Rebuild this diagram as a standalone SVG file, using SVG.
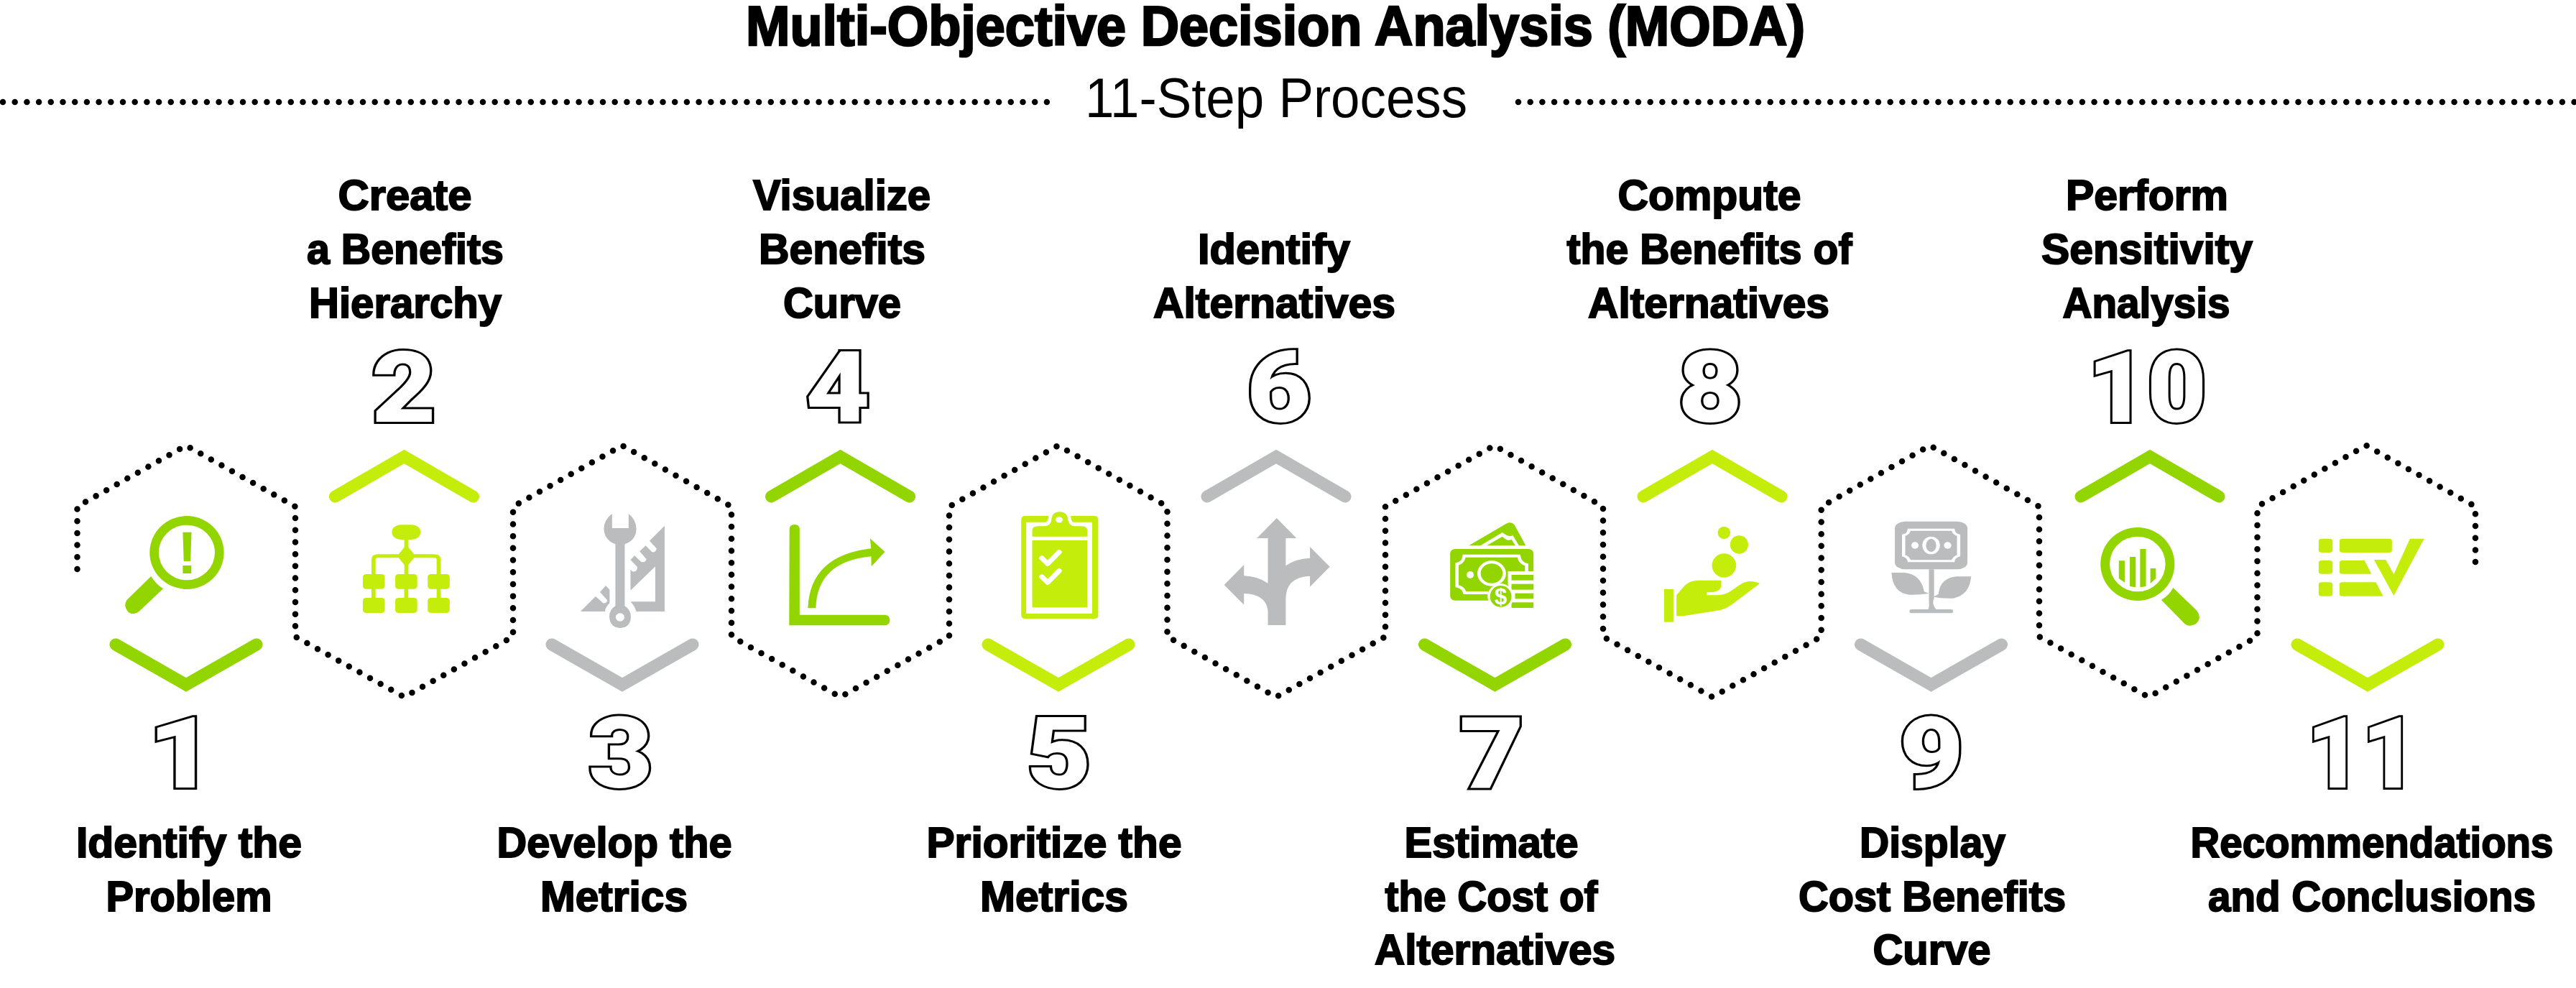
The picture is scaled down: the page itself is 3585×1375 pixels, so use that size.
<svg xmlns="http://www.w3.org/2000/svg" width="3585" height="1375" viewBox="0 0 3585 1375">
<style>
text{font-family:"Liberation Sans",Arial,sans-serif;fill:#000;text-anchor:middle}
.t{font-size:77px;font-weight:700;stroke:#000;stroke-width:2.6px}
.s{font-size:77px;font-weight:400}
.b{font-size:59px;font-weight:700;stroke:#000;stroke-width:2px}
.n{font-family:Roboto,"Liberation Sans",sans-serif;font-size:138px;font-weight:900;fill:#fff;stroke:#000;stroke-width:6px;paint-order:stroke;stroke-linejoin:miter}
.dots{fill:none;stroke:#000;stroke-width:8.500;stroke-linecap:round;stroke-dasharray:0 16.7}
.ch{fill:none;stroke-width:17;stroke-linecap:round;stroke-linejoin:miter;stroke-miterlimit:10}
.G{stroke:#93d500}
.L{stroke:#c4ed0b}
.K{stroke:#bbbcbe}
.fg{fill:#93d500}.fl{fill:#c4ed0b}.fk{fill:#bbbcbe}.w{fill:#fff}
.sw{fill:none;stroke:#fff}
</style>
<defs>
<path id="dn" d="M-98 897L0 953L98 897"/>
<path id="up" d="M-96 691L0 635.5L96 691"/>
</defs>
<rect width="3585" height="1375" fill="#fff"/>
<g id="header">
<text class="t" x="1775" y="63" textLength="1474" lengthAdjust="spacingAndGlyphs">Multi-Objective Decision Analysis (MODA)</text>
<text class="s" x="1776" y="163" textLength="532" lengthAdjust="spacingAndGlyphs">11-Step Process</text>
<path class="dots" d="M4 142H1458"/>
<path class="dots" d="M2113 142H3585"/>
</g>
<g id="connectors">
<path class="dots" d="M107.500 792V705L259 620L411 705V886L562.500 970L714 886V705L866 620L1018 705V886L1169.500 970L1321 886V705L1472.700 620L1624.500 705V886L1776 970L1928 886V705L2079.500 620L2231 705V886L2383 970L2534.700 886V705L2686 620L2838 705V886L2990 970L3141.500 886V705L3293 620L3445 705V797"/>
</g>
<g id="node-1">
<use href="#dn" x="259" class="ch G"/>
<g transform="translate(100 680) scale(.3827 .3333)">
<ellipse class="fg" cx="418" cy="267" rx="135" ry="153"/><ellipse class="w" cx="418" cy="267" rx="102" ry="115"/>
<path class="fg" d="M288 366Q305 398 332 418L245 512Q225 532 205 515Q185 490 200 465Z"/>
</g>
<text x="260.500" y="798" style="font-size:84px;font-weight:700;fill:#93d500">!</text>
<text class="n" x="252" y="1096" textLength="92" lengthAdjust="spacingAndGlyphs">1</text>
<text class="b" x="263" y="1193" textLength="314" lengthAdjust="spacingAndGlyphs">Identify the</text>
<text class="b" x="263" y="1268" textLength="231" lengthAdjust="spacingAndGlyphs">Problem</text>
</g>
<g id="node-2">
<use href="#up" x="562.500" class="ch L"/>
<g transform="translate(100 680) scale(.3827 .3333)">
<rect class="fl" x="1164" y="151" width="104" height="62" rx="32" ry="30"/>
<path class="fl" d="M1209 213H1224V245L1250 281L1224 318V360H1209V318L1183 281L1209 245Z"/>
<path fill="none" stroke="#c4ed0b" stroke-width="15" d="M1097 360V295Q1097 281 1115 281H1316Q1334 281 1334 295V360"/>
<path fill="none" stroke="#c4ed0b" stroke-width="15" d="M1097 415V460M1216 415V460M1334 415V460"/>
<g class="fl">
<rect x="1058" y="357" width="80" height="62" rx="12"/><rect x="1176" y="357" width="80" height="62" rx="12"/><rect x="1294" y="357" width="80" height="62" rx="12"/>
<rect x="1058" y="456" width="80" height="63" rx="12"/><rect x="1176" y="456" width="80" height="63" rx="12"/><rect x="1294" y="456" width="80" height="63" rx="12"/>
</g>
</g>
<text class="n" x="562" y="587" textLength="90" lengthAdjust="spacingAndGlyphs">2</text>
<text class="b" x="563.500" y="292" textLength="186" lengthAdjust="spacingAndGlyphs">Create</text>
<text class="b" x="564" y="367" textLength="274" lengthAdjust="spacingAndGlyphs">a Benefits</text>
<text class="b" x="564" y="442" textLength="268" lengthAdjust="spacingAndGlyphs">Hierarchy</text>
</g>
<g id="node-3">
<use href="#dn" x="866" class="ch K"/>
<g transform="translate(760 680) scale(.3827 .3333)" class="fk">
<path d="M240 105Q210 130 210 168Q212 215 252 232L252 490Q230 505 230 535Q232 580 269 582Q308 580 308 535Q308 505 286 490L286 232Q328 215 328 168Q328 130 300 105L300 165L240 165Z"/>
<ellipse class="w" cx="269" cy="537" rx="16" ry="17"/>
<path d="M431 155L376 218L402 250Q400 268 385 265L362 238L340 262L365 295Q360 312 345 305L322 280L307 297L332 328Q330 352 313 345L307 338L307 425L397 325L397 472L307 472Q322 490 328 513L431 513Z"/>
<path d="M125 513L180 450L207 478Q222 480 222 465L196 432L217 405L231 422L231 478Q216 495 214 513Z"/>
</g>
<text class="n" x="864" y="1096" textLength="90" lengthAdjust="spacingAndGlyphs">3</text>
<text class="b" x="855" y="1193" textLength="327" lengthAdjust="spacingAndGlyphs">Develop the</text>
<text class="b" x="854.500" y="1268" textLength="205" lengthAdjust="spacingAndGlyphs">Metrics</text>
</g>
<g id="node-4">
<use href="#up" x="1169.500" class="ch G"/>
<g transform="translate(760 680) scale(.3827 .3333)" class="fg">
<path d="M885 170Q885 150 903 150Q922 150 922 170L922 527L1232 527Q1250 530 1250 549Q1250 570 1232 571L884 571Z"/>
<path d="M952 499Q960 280 1182 250L1178 208L1232 264L1183 325L1182 283Q985 305 981 499Z"/>
</g>
<text class="n" x="1166" y="587" textLength="90" lengthAdjust="spacingAndGlyphs">4</text>
<text class="b" x="1171.500" y="292" textLength="247" lengthAdjust="spacingAndGlyphs">Visualize</text>
<text class="b" x="1172" y="367" textLength="232" lengthAdjust="spacingAndGlyphs">Benefits</text>
<text class="b" x="1172" y="442" textLength="164" lengthAdjust="spacingAndGlyphs">Curve</text>
</g>
<g id="node-5">
<use href="#dn" x="1473" class="ch L"/>
<g transform="translate(1360 680) scale(.3827 .3333)" class="fl">
<path d="M260 114H175Q160 114 160 130V528Q160 543 175 543H425Q440 543 440 528V130Q440 114 425 114H340Q342 140 350 140H418V522H178V140H250Q258 135 260 114Z"/>
<path d="M200 200V175Q200 157 220 157H245Q268 155 270 130Q272 97 299 97Q328 97 330 130Q332 155 355 157H380Q400 157 400 175V200Z"/>
<ellipse class="w" cx="298" cy="130" rx="13" ry="12"/>
<rect x="200" y="216" width="200" height="280"/>
<path class="sw" stroke-width="19" stroke-linecap="round" stroke-linejoin="round" d="M235 290L256 314L298 265M235 368L256 392L298 343"/>
</g>
<text class="n" x="1474" y="1096" textLength="90" lengthAdjust="spacingAndGlyphs">5</text>
<text class="b" x="1467" y="1193" textLength="355" lengthAdjust="spacingAndGlyphs">Prioritize the</text>
<text class="b" x="1467" y="1268" textLength="206" lengthAdjust="spacingAndGlyphs">Metrics</text>
</g>
<g id="node-6">
<use href="#up" x="1776" class="ch K"/>
<g transform="translate(1360 680) scale(.3827 .3333)" class="fk">
<path d="M1089 123L1161 207H1122V322Q1160 292 1210 290V243L1282 326L1210 410V365Q1122 370 1122 460V570H1057V510Q1050 440 970 438V485L898 402L970 318V364Q1020 366 1057 395V207H1017Z"/>
</g>
<text class="n" x="1780" y="587" textLength="90" lengthAdjust="spacingAndGlyphs">6</text>
<text class="b" x="1773" y="367" textLength="212" lengthAdjust="spacingAndGlyphs">Identify</text>
<text class="b" x="1773.500" y="442" textLength="337" lengthAdjust="spacingAndGlyphs">Alternatives</text>
</g>
<g id="node-7">
<use href="#dn" x="2080.500" class="ch G"/>
<g transform="translate(1960 680) scale(.3827 .3333)" class="fg">
<path d="M220 238L355 147Q372 135 385 150L427 238H402L380 195Q365 205 342 183L262 238Z"/>
<path d="M285 238L342 200Q360 222 375 212L389 238Z"/>
<rect x="152" y="252" width="303" height="215" rx="18"/>
<path class="sw" stroke-width="12" d="M290 435H205Q200 413 177 407V315Q200 310 203 281H402Q404 310 430 318V345"/>
<ellipse cx="303" cy="354" rx="46" ry="47" fill="none" stroke="#fff" stroke-width="12"/>
<ellipse class="w" cx="225" cy="360" rx="13" ry="15"/>
<path class="w" d="M362 345H455V500H375Q385 480 380 470L362 400Z"/>
<rect x="375" y="360" width="80" height="23"/><rect x="375" y="398" width="80" height="24"/><rect x="388" y="437" width="67" height="23"/><rect x="375" y="475" width="80" height="23"/>
<ellipse class="w" cx="336" cy="450" rx="48" ry="53"/>
<ellipse cx="336" cy="450" rx="39" ry="45"/>
</g>
<text x="2088.500" y="841" style="font-size:31px;font-weight:700;fill:#fff">$</text>
<text class="n" x="2076" y="1096" textLength="90" lengthAdjust="spacingAndGlyphs">7</text>
<text class="b" x="2075.500" y="1193" textLength="242" lengthAdjust="spacingAndGlyphs">Estimate</text>
<text class="b" x="2075.500" y="1268" textLength="296" lengthAdjust="spacingAndGlyphs">the Cost of</text>
<text class="b" x="2080.500" y="1342" textLength="335" lengthAdjust="spacingAndGlyphs">Alternatives</text>
</g>
<g id="node-8">
<use href="#up" x="2383" class="ch L"/>
<g transform="translate(1960 680) scale(.3827 .3333)" class="fl">
<ellipse cx="1148" cy="184" rx="23" ry="26"/><ellipse cx="1203" cy="234" rx="33" ry="38"/><ellipse cx="1148" cy="321" rx="44" ry="50"/>
<rect x="930" y="420" width="34" height="137"/>
<path d="M975 445L1005 405Q1025 383 1055 383H1138V405Q1135 432 1100 433H1085V445H1120Q1150 445 1170 430L1205 402Q1240 375 1278 396L1175 485Q1150 505 1120 510L1000 532H975Z"/>
</g>
<text class="n" x="2380" y="587" textLength="90" lengthAdjust="spacingAndGlyphs">8</text>
<text class="b" x="2379" y="292" textLength="255" lengthAdjust="spacingAndGlyphs">Compute</text>
<text class="b" x="2379" y="367" textLength="397" lengthAdjust="spacingAndGlyphs">the Benefits of</text>
<text class="b" x="2378" y="442" textLength="336" lengthAdjust="spacingAndGlyphs">Alternatives</text>
</g>
<g id="node-9">
<use href="#dn" x="2687.500" class="ch K"/>
<g transform="translate(2560 680) scale(.5102 .3333)" class="fk">
<rect x="151" y="137" width="198" height="200" rx="28"/>
<path class="sw" stroke-width="9" d="M190 172H310Q312 190 325 195V280Q312 285 310 302H190Q188 285 175 280V195Q188 190 190 172Z"/>
<ellipse cx="250" cy="237" rx="19" ry="32" fill="none" stroke="#fff" stroke-width="10"/>
<ellipse class="w" cx="206" cy="237" rx="10" ry="14"/><ellipse class="w" cx="295" cy="237" rx="10" ry="14"/>
<path d="M142 351H178Q222 358 231 430L244 438Q220 444 190 443Q145 435 142 351Z"/>
<path d="M359 367H320Q275 372 270 440L256 452Q280 460 310 458Q355 445 359 367Z"/>
<path d="M244 337V470Q246 490 242 506H264Q250 480 258 458V337Z"/>
<rect x="191" y="504" width="119" height="16" rx="7"/>
</g>
<text class="n" x="2688" y="1096" textLength="90" lengthAdjust="spacingAndGlyphs">9</text>
<text class="b" x="2689.500" y="1193" textLength="203" lengthAdjust="spacingAndGlyphs">Display</text>
<text class="b" x="2689" y="1268" textLength="372" lengthAdjust="spacingAndGlyphs">Cost Benefits</text>
<text class="b" x="2688.500" y="1342" textLength="164" lengthAdjust="spacingAndGlyphs">Curve</text>
</g>
<g id="node-10">
<use href="#up" x="2992" class="ch G"/>
<g transform="translate(2560 680) scale(.5102 .3333)" class="fg">
<ellipse cx="813" cy="315" rx="101" ry="153"/><ellipse class="w" cx="813" cy="315" rx="76" ry="115"/>
<path d="M762 301H778V392L762 375ZM792 285H808V412L792 408ZM820 252H836V408L820 412ZM848 333H863V375L848 396Z"/>
<path d="M910 414L975 510Q990 540 972 565Q955 580 942 565L878 465Q900 445 910 414Z"/>
</g>
<text class="n" x="2988" y="587" textLength="166" lengthAdjust="spacingAndGlyphs">10</text>
<text class="b" x="2988" y="292" textLength="226" lengthAdjust="spacingAndGlyphs">Perform</text>
<text class="b" x="2988" y="367" textLength="294" lengthAdjust="spacingAndGlyphs">Sensitivity</text>
<text class="b" x="2987" y="442" textLength="233" lengthAdjust="spacingAndGlyphs">Analysis</text>
</g>
<g id="node-11">
<use href="#dn" x="3295" class="ch L"/>
<g transform="translate(2560 680) scale(.5102 .3333)" class="fl">
<rect x="1307" y="209" width="38" height="58" rx="9"/><rect x="1307" y="300" width="38" height="56" rx="9"/><rect x="1307" y="391" width="38" height="58" rx="9"/>
<rect x="1364" y="209" width="143" height="58" rx="9"/>
<path d="M1372 300H1432L1451 356H1372Q1364 356 1364 348V308Q1364 300 1372 300Z"/>
<path d="M1372 391H1463L1483 449H1372Q1364 449 1364 441V399Q1364 391 1372 391Z"/>
<path d="M1458 297H1490L1512 358L1556 209H1595L1512 447Z"/>
</g>
<text class="n" x="3287" y="1096" textLength="154" lengthAdjust="spacingAndGlyphs">11</text>
<text class="b" x="3301" y="1193" textLength="505" lengthAdjust="spacingAndGlyphs">Recommendations</text>
<text class="b" x="3301" y="1268" textLength="456" lengthAdjust="spacingAndGlyphs">and Conclusions</text>
</g>
</svg>
